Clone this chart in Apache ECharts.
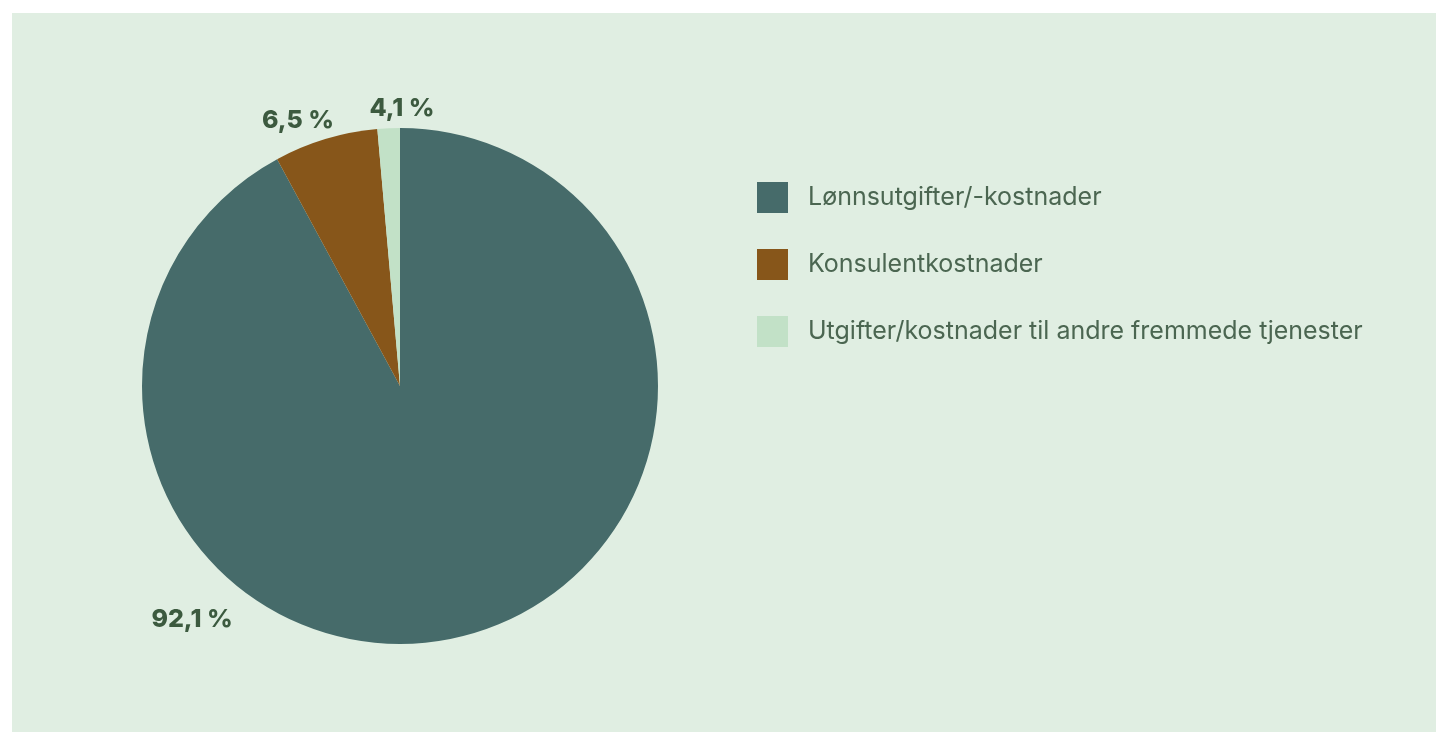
<!DOCTYPE html>
<html>
<head>
<meta charset="utf-8">
<script src="https://cdn.jsdelivr.net/npm/echarts@6/dist/echarts.min.js"></script>
<style>
  html, body { margin: 0; padding: 0; background: #ffffff; }
  #chart { position: absolute; left: 12px; top: 13px; width: 1424px; height: 719px; }
</style>
</head>
<body>
<div id="chart"></div>
<script>
// kategorier og verdier (lest av figuren)
const categories = ['Lønnsutgifter/-kostnader', 'Konsulentkostnader', 'Utgifter/kostnader til andre fremmede tjenester'];
const values = [92.1, 6.5, 1.4];
const valueLabels = ['92,1 %', '6,5 %', '4,1 %'];
const colors = ['#466b6a', '#87561a', '#c2e1c7'];

// plassering av etikettene rundt kaka
const labelSpots = [
  { x: 180, y: 606 },
  { x: 286, y: 107 },
  { x: 390, y: 95 }
];

const chart = echarts.init(document.getElementById('chart'));

const option = {
  animation: false,
  backgroundColor: '#e0eee2',
  color: colors,
  legend: {
    orient: 'vertical',
    left: 745,
    top: 169,
    padding: 0,
    itemWidth: 31,
    itemHeight: 31,
    itemGap: 36,
    icon: 'rect',
    data: categories,
    textStyle: {
      fontFamily: 'Inter',
      fontSize: 25,
      color: '#4b6651',
      padding: [0, 0, 0, 15]
    }
  },
  series: [{
    type: 'pie',
    center: [388, 373],
    radius: [0, 258],
    startAngle: 90,
    clockwise: true,
    avoidLabelOverlap: false,
    itemStyle: { borderWidth: 0 },
    label: {
      show: true,
      position: 'outside',
      formatter: p => valueLabels[p.dataIndex],
      fontFamily: 'Inter',
      fontWeight: 800,
      fontSize: 25,
      color: '#3c5a3f'
    },
    labelLine: { show: false },
    labelLayout: p => ({
      x: labelSpots[p.dataIndex].x,
      y: labelSpots[p.dataIndex].y,
      align: 'center',
      verticalAlign: 'middle'
    }),
    emphasis: { disabled: true },
    data: categories.map((name, i) => ({ name, value: values[i] }))
  }]
};

chart.setOption(option);
</script>
</body>
</html>
